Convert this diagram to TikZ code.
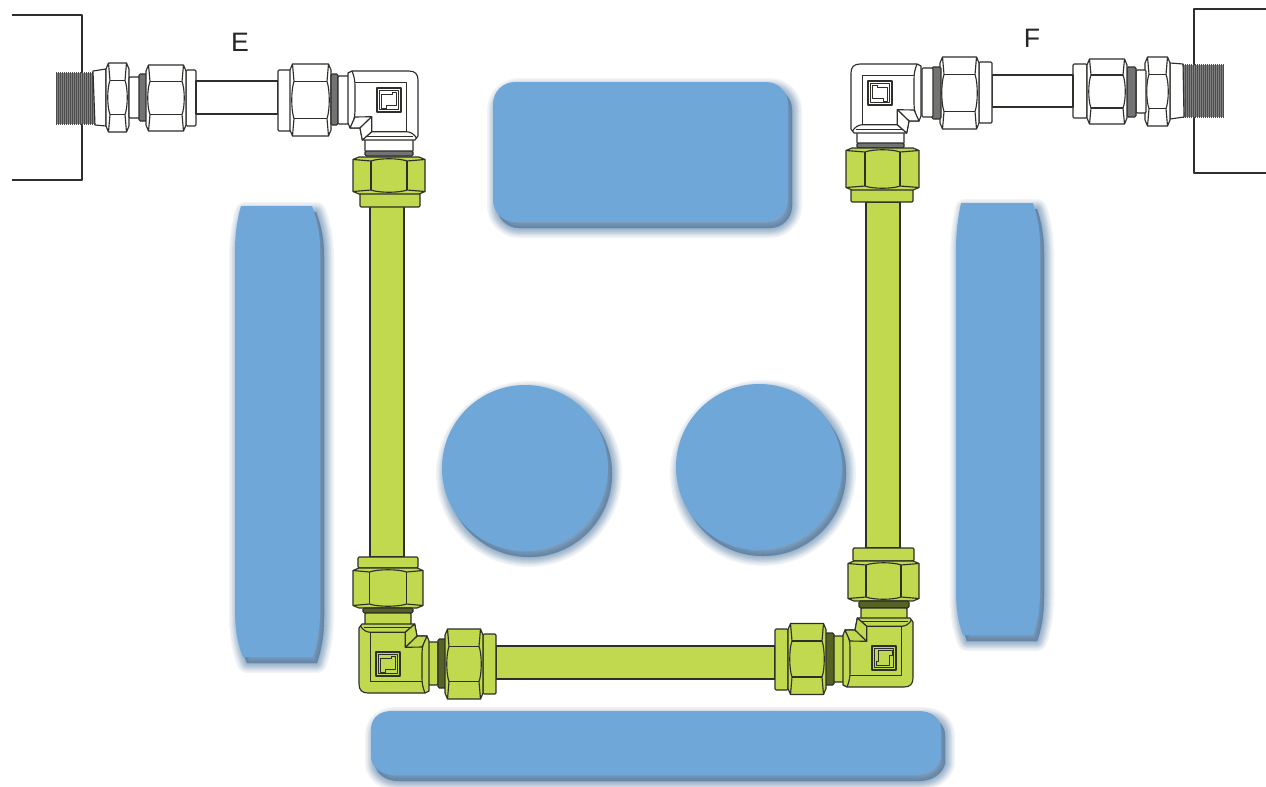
\documentclass[tikz,border=0pt]{standalone}
\usepackage{fontspec}
\setmainfont{Liberation Sans}
\definecolor{pipegreen}{HTML}{C0D94E}
\definecolor{padblue}{HTML}{6FA8D8}
\definecolor{padshadow}{HTML}{2F5F8F}
\definecolor{inkline}{HTML}{2E2E2A}
\tikzset{
  ink/.style={draw=inkline,line width=0.85pt,line join=round},
  thin ink/.style={draw=inkline,line width=0.6pt,line join=round},
  label text/.style={font=\fontsize{20}{24}\selectfont,text=black!85,inner sep=0pt},
}
% soft-shadowed pad
\newcommand{\softpad}[1]{%
  \foreach \w in {20,17,14,12,10,8,6,4,2,0.5}{%
    \path[fill=padshadow,draw=padshadow,fill opacity=.065,draw opacity=.065,line width=\w*0.75pt,line join=round,shift={(4,6)}] #1;
  }
  \fill[padblue] #1;
}
% block with slightly rounded corners
\newcommand{\block}[5]{\draw[ink,fill=#5,rounded corners=0.8pt] (#1,#2) rectangle (#3,#4);}
% dark packing ring
\newcommand{\ring}[5]{%
  \draw[ink,fill=#5!45!black,rounded corners=1pt] (#1,#2) rectangle (#3,#4);
}
% hex nut in local coords: length #1, half height #2, facet line #3
\newcommand{\nutshape}[4]{%
  \pgfmathsetmacro{\nl}{#1}
  \draw[ink,fill=#4] (0,{-#2+6}) -- (2.5,-#2) -- ({\nl-2.5},-#2) -- (\nl,{-#2+6}) -- (\nl,{#2-6}) -- ({\nl-2.5},#2) -- (2.5,#2) -- (0,{#2-6}) -- cycle;
  \draw[ink] (4,-#3) -- ({\nl-4},-#3);
  \draw[ink] (4,#3) -- ({\nl-4},#3);
  \draw[ink] (2.5,-#2) -- (4,-#3) .. controls (1,{-#3*0.55}) and (1,{#3*0.55}) .. (4,#3) -- (2.5,#2);
  \draw[ink] ({\nl-2.5},-#2) -- ({\nl-4},-#3) .. controls ({\nl-1},{-#3*0.55}) and ({\nl-1},{#3*0.55}) .. ({\nl-4},#3) -- ({\nl-2.5},#2);
}
% horizontal nut: x0,x1,yc,H,h,col
\newcommand{\hnut}[6]{\begin{scope}[shift={(#1,#3)}]\nutshape{#2-#1}{#4}{#5}{#6}\end{scope}}
% vertical nut: xc,y0,y1,H,h,col
\newcommand{\vnut}[6]{\begin{scope}[shift={(#1,#2)},rotate=-90]\nutshape{#3-#2}{#4}{#5}{#6}\end{scope}}
% elbow: origin x,y, xscale, yscale, colour, glyph rotation
\newcommand{\elbow}[6]{%
\begin{scope}[shift={(#1,#2)},xscale=#3,yscale=#4]
  \draw[ink,fill=#5] (0,9) .. controls (0,3) and (3,0) .. (9,0) -- (66,0) -- (70,2) -- (70,52) -- (68,57) -- (58,57) -- (55.7,69) -- (3,69) -- (0,65) -- cycle;
  \draw[ink] (66,0) .. controls (64,5) and (63,9) .. (63,15) -- (63,40) .. controls (63,47) and (65,52) .. (68,57);
  \draw[ink] (63,11.7) -- (11.3,11.7) -- (11.3,60.7);
  \draw[ink] (1.3,67.3) .. controls (4,63) and (7,61) .. (11.3,60.7) -- (46.3,60.7) -- (55.7,69);
  \draw[thin ink] (5,65.5) -- (53,65.5);
  \draw[ink,fill=#5] (63,46) -- (46.3,45.7) -- (58,57) -- (68,57) -- cycle;
  \draw[ink,fill=#5] (46.3,45.7) -- (46.3,60.7) -- (55.7,69) -- (58,57) -- cycle;
  \draw[ink] (17,17) rectangle (41,41);
  \draw[thin ink] (19.5,19.5) rectangle (38.5,38.5);
  \begin{scope}[shift={(29,29)},rotate=#6]
    \draw[thin ink] (7.5,-5.5) -- (-3,-5.5) -- (-3,-8) -- (-7.5,-8) -- (-7.5,5.5) -- (3,5.5) -- (3,8) -- (7.5,8) -- cycle;
  \end{scope}
\end{scope}}
% threaded stub
\newcommand{\thread}[5]{%
  \fill[black!50] (#1,#3) rectangle (#2,#4);
  \foreach \tx in {0,2,...,#5}{\draw[black!70,line width=0.55pt] ({#1+\tx},{#3-1}) -- ({#1+\tx},{#4+1});}
}
\begin{document}
\begin{tikzpicture}[x=0.75pt,y=-0.75pt]
\useasboundingbox (0,0) rectangle (1266,786);
\fill[white] (0,0) rectangle (1266,786);

% ---- blue pads
\softpad{[rounded corners=16.5pt] (493,82) rectangle (788,222)}
\softpad{(241,206) -- (312,206) .. controls (318,222) and (320,235) .. (320,250) -- (320,612) .. controls (320,630) and (317,645) .. (313,657) -- (243,657) .. controls (238,645) and (235,630) .. (235,612) -- (235,250) .. controls (235,235) and (237,220) .. (241,206) -- cycle}
\softpad{(961,203) -- (1033,203) .. controls (1038,218) and (1040,232) .. (1040,248) -- (1040,590) .. controls (1040,610) and (1037,625) .. (1033,635) -- (963,635) .. controls (958,622) and (956,610) .. (956,590) -- (956,248) .. controls (956,232) and (958,218) .. (961,203) -- cycle}
\softpad{(525,468) circle (83)}
\softpad{(759,467) circle (83)}
\softpad{(371,728) .. controls (372,717) and (380,711) .. (392,711) -- (918,711) .. controls (932,711) and (941,718) .. (941,730) -- (941,758) .. controls (938,768) and (928,775) .. (915,775) -- (395,775) .. controls (382,775) and (372,768) .. (371,758) -- cycle}

% ---- E assembly (white)
\draw[ink] (12,15) -- (82,15) -- (82,180) -- (12,180);
\thread{56}{94}{73}{124}{38}
\draw[ink,fill=white] (93,71) -- (106,69) -- (106,126) -- (95,125) -- cycle;
\hnut{106}{129}{97.5}{34.5}{17}{white}
\block{129}{77}{140}{118}{white}
\ring{139}{74}{147}{121}{white}
\block{186}{70}{196}{126}{white}
\hnut{146}{186}{98}{33}{16.5}{white}
\draw[ink,fill=white] (196,81) rectangle (278,114);
\block{278}{70}{291}{131}{white}
\hnut{290}{331}{100}{36}{18.5}{white}
\ring{331}{74}{338}{125}{white}
\block{338}{76}{349}{124}{white}

% ---- F assembly (white)
\draw[ink] (1266,9) -- (1194,9) -- (1194,173) -- (1266,173);
\thread{1183}{1223}{65}{117}{40}
\draw[ink,fill=white] (1170,63) -- (1183,64) -- (1184,117) -- (1170,119) -- cycle;
\hnut{1145}{1170}{91.5}{34.5}{17}{white}
\block{1136}{70}{1146}{113}{white}
\ring{1127}{67}{1136}{117}{white}
\block{1073}{64}{1087}{118}{white}
\hnut{1087}{1127}{91.5}{32.5}{16.5}{white}
\draw[ink,fill=white] (992,75) rectangle (1073,107);
\block{979}{62}{992}{123}{white}
\hnut{940}{979}{93}{36}{18.5}{white}
\ring{932}{67}{941}{119}{white}
\block{922}{68}{933}{117}{white}

% ---- green tubes
\draw[ink,fill=pipegreen] (370,206) rectangle (404,557);
\draw[ink,fill=pipegreen] (866,202) rectangle (900,548);
\draw[ink,fill=pipegreen] (496,646) rectangle (775,679);

% ---- necks below top elbows
\block{365}{138}{413}{152}{white}
\ring{365}{151}{413}{156}{white}
\block{857}{131}{904}{144}{white}
\ring{857}{143}{904}{148}{white}

% ---- green top nuts
\block{360}{193}{420}{207}{pipegreen}
\vnut{389}{157}{194}{36}{18}{pipegreen}
\block{851}{189}{913}{202}{pipegreen}
\vnut{882.5}{148}{190}{36.5}{17.5}{pipegreen}

% ---- bottom left
\block{358}{557}{418}{568}{pipegreen}
\vnut{388}{568}{608}{35}{18.5}{pipegreen}
\ring{363}{608}{413}{613}{pipegreen}
\block{365}{613}{411}{628}{pipegreen}
\block{427}{642}{438}{685}{pipegreen}
\ring{438}{639}{447}{688}{pipegreen}
\block{483}{634}{496}{694}{pipegreen}
\hnut{445}{483}{664}{35}{17.5}{pipegreen}

% ---- bottom right
\block{853}{548}{914}{561}{pipegreen}
\vnut{883.5}{561}{601}{35.5}{17.5}{pipegreen}
\ring{859}{601}{909}{608}{pipegreen}
\block{861}{608}{907}{621}{pipegreen}
\block{833}{636}{844}{682}{pipegreen}
\ring{825}{633}{834}{685}{pipegreen}
\block{775}{629}{788}{690}{pipegreen}
\hnut{788}{826}{659}{35.5}{18}{pipegreen}

% ---- elbows
\elbow{418}{71}{-1}{1}{white}{0}
\elbow{851}{64}{1}{1}{white}{0}
\elbow{359}{693}{1}{-1}{pipegreen}{0}
\elbow{913}{687}{-1}{-1}{pipegreen}{90}

% ---- labels
\node[label text] (labelE) at (240,42) {E};
\node[label text] (labelF) at (1032,38) {F};
\end{tikzpicture}
\end{document}
